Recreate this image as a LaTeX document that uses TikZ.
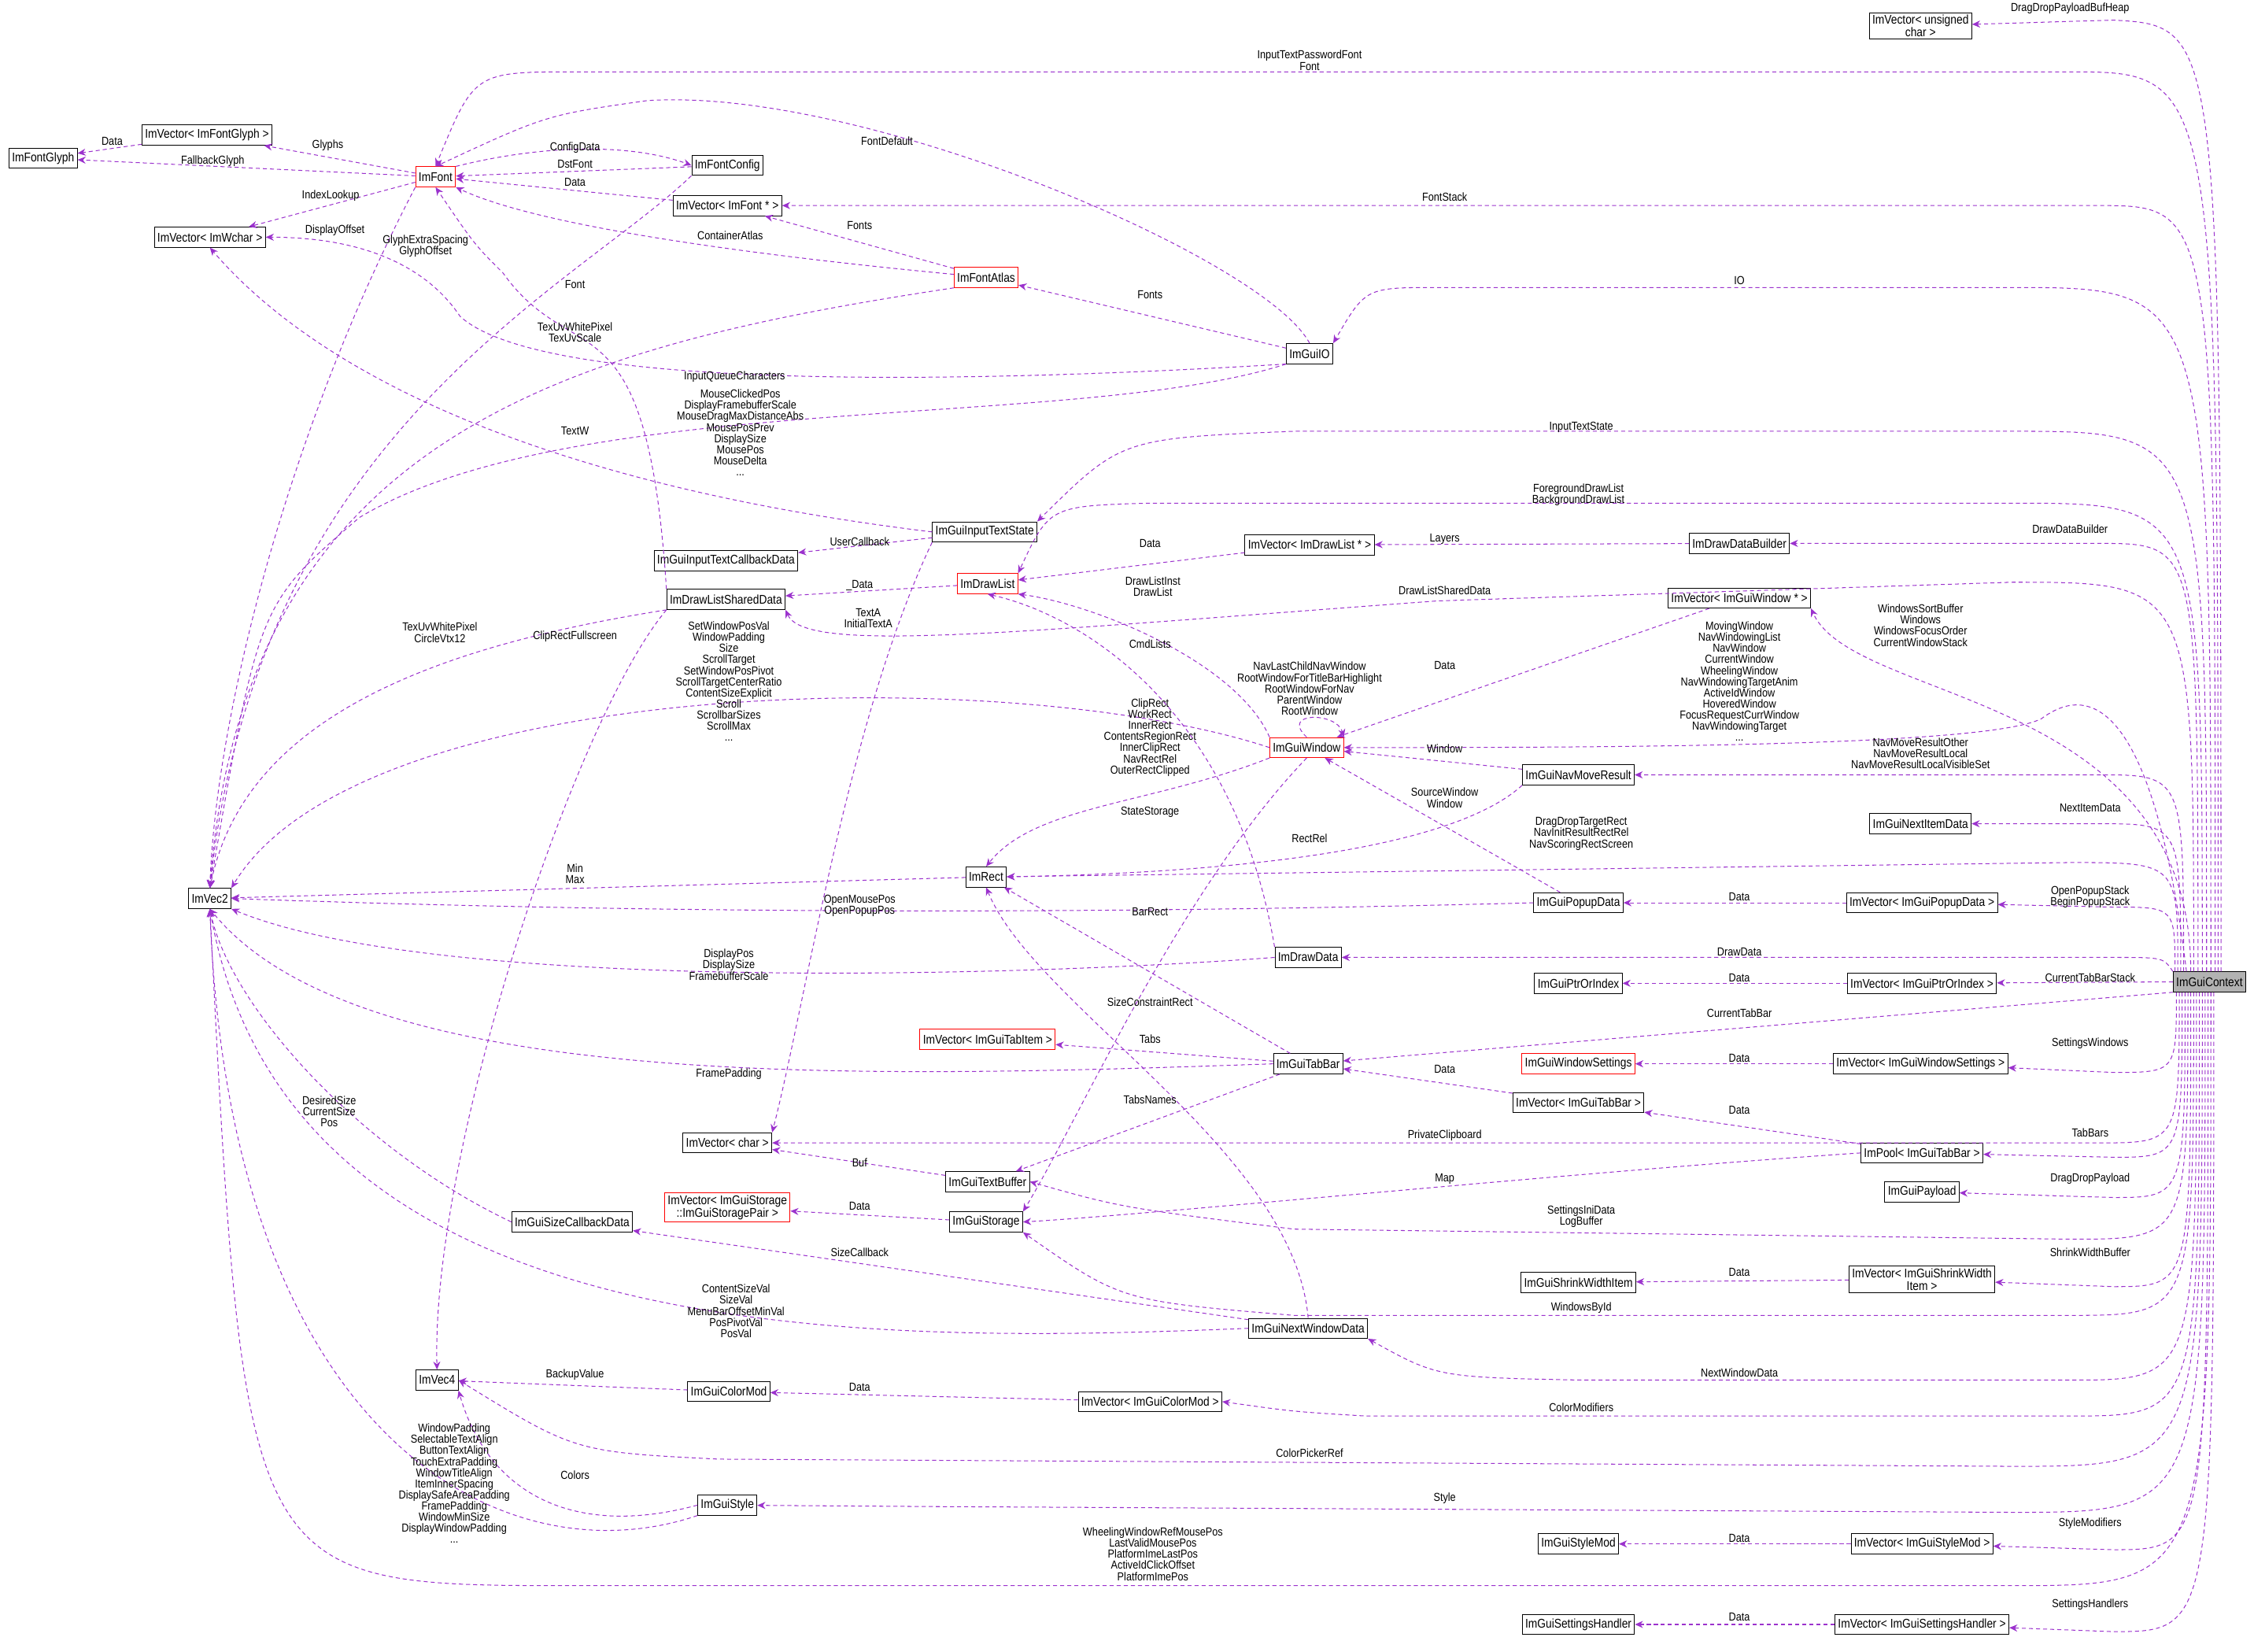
\documentclass[tikz,border=0pt]{standalone}
\usepackage{fontspec}
\usetikzlibrary{arrows.meta}
\setmainfont{Liberation Sans}[FakeStretch=0.86]
\definecolor{ec}{RGB}{155,50,205}
\tikzset{
 box/.style={draw=black, line width=0.7pt, fill=white, font=\fontsize{12.5}{13}\selectfont, inner xsep=3pt, inner ysep=2pt, minimum height=0.7cm, align=center},
 rbox/.style={box, draw=red},
 gbox/.style={box, fill=gray!60},
 e/.style={draw=ec, line width=0.8pt, dash pattern=on 4pt off 3pt, -{Stealth[length=8pt,width=7pt]}},
 lab/.style={font=\fontsize{11.5}{11}\selectfont, align=center, inner sep=0pt},
}
\begin{document}
\begin{tikzpicture}[x=0.05cm,y=-0.05cm]
\useasboundingbox (0,0) rectangle (1568,1149);
% nodes
\node[box] (uchar) at (1336,18) {ImVector< unsigned\\ char >};
\node[box] (glyph) at (30,110) {ImFontGlyph};
\node[box] (vglyph) at (144,94) {ImVector< ImFontGlyph >};
\node[rbox] (font) at (303,123) {ImFont};
\node[box] (fcfg) at (506,115) {ImFontConfig};
\node[box] (vwchar) at (146,165) {ImVector< ImWchar >};
\node[box] (vfont) at (506,143) {ImVector< ImFont * >};
\node[rbox] (atlas) at (686,193) {ImFontAtlas};
\node[box] (io) at (911,246) {ImGuiIO};
\node[box] (its) at (685,370) {ImGuiInputTextState};
\node[box] (itcb) at (505,390) {ImGuiInputTextCallbackData};
\node[box] (dlsd) at (505,417) {ImDrawListSharedData};
\node[rbox] (dl) at (687,406) {ImDrawList};
\node[box] (vdl) at (911,379) {ImVector< ImDrawList * >};
\node[box] (ddb) at (1210,378) {ImDrawDataBuilder};
\node[box] (vwin) at (1210,416) {ImVector< ImGuiWindow * >};
\node[rbox] (win) at (909,520) {ImGuiWindow};
\node[box] (nmr) at (1098,539) {ImGuiNavMoveResult};
\node[box] (nid) at (1336,573) {ImGuiNextItemData};
\node[box] (rect) at (686,610) {ImRect};
\node[box] (vec2) at (146,625) {ImVec2};
\node[box] (pop) at (1098,628) {ImGuiPopupData};
\node[box] (vpop) at (1337,628) {ImVector< ImGuiPopupData >};
\node[box] (dd) at (910,666) {ImDrawData};
\node[box] (ptr) at (1098,684) {ImGuiPtrOrIndex};
\node[box] (vptr) at (1337,684) {ImVector< ImGuiPtrOrIndex >};
\node[gbox] (ctx) at (1537,683) {ImGuiContext};
\node[rbox] (vtab) at (687,723) {ImVector< ImGuiTabItem >};
\node[box] (tab) at (910,740) {ImGuiTabBar};
\node[rbox] (ws) at (1098,740) {ImGuiWindowSettings};
\node[box] (vws) at (1336,740) {ImVector< ImGuiWindowSettings >};
\node[box] (vtabbar) at (1098,767) {ImVector< ImGuiTabBar >};
\node[box] (vchar) at (506,795) {ImVector< char >};
\node[box] (pool) at (1337,802) {ImPool< ImGuiTabBar >};
\node[box] (tbuf) at (687,822) {ImGuiTextBuffer};
\node[box] (pay) at (1337,829) {ImGuiPayload};
\node[rbox] (vpair) at (506,840) {ImVector< ImGuiStorage\\ ::ImGuiStoragePair >};
\node[box] (stor) at (686,850) {ImGuiStorage};
\node[box] (scb) at (398,850) {ImGuiSizeCallbackData};
\node[box] (shr) at (1098,892) {ImGuiShrinkWidthItem};
\node[box] (vshr) at (1337,890) {ImVector< ImGuiShrinkWidth\\ Item >};
\node[box] (nwd) at (910,924) {ImGuiNextWindowData};
\node[box] (vec4) at (304,960) {ImVec4};
\node[box] (cmod) at (507,968) {ImGuiColorMod};
\node[box] (vcmod) at (800,975) {ImVector< ImGuiColorMod >};
\node[box] (style) at (506,1047) {ImGuiStyle};
\node[box] (smod) at (1098,1074) {ImGuiStyleMod};
\node[box] (vsmod) at (1337,1074) {ImVector< ImGuiStyleMod >};
\node[box] (sh) at (1098,1130) {ImGuiSettingsHandler};
\node[box] (vsh) at (1337,1130) {ImVector< ImGuiSettingsHandler >};

% ---- edges from ImGuiContext (upwards)
\draw[e] (1545,0 |- ctx.north) .. controls (1545,18) .. (1470,14) -- (uchar);
\draw[e] (1543,0 |- ctx.north) .. controls (1543,50) .. (1440,50) -- (400,50) .. controls (330,50) .. (font.north);
\draw[e] (1541,0 |- ctx.north) .. controls (1541,143) .. (1460,143) -- (vfont);
\draw[e] (1538,0 |- ctx.north) .. controls (1538,200) .. (1400,200) -- (1000,200) .. controls (950,200) .. (io.north east);
\draw[e] (1535,0 |- ctx.north) .. controls (1535,300) .. (1400,300) -- (900,300) .. controls (780,305) .. (its.north east);
\draw[e] (1532,0 |- ctx.north) .. controls (1532,350) .. (1400,350) -- (800,350) .. controls (730,352) .. (dl.north east);
\draw[e] (1529,0 |- ctx.north) .. controls (1529,378) .. (1460,378) -- (ddb);
\draw[e] (1526,0 |- ctx.north) .. controls (1526,405) .. (1400,405) -- (1000,418) .. controls (700,440) and (560,455) .. (dlsd.south east);
\draw[e] (1524,0 |- ctx.north) .. controls (1524,480) and (1290,490) .. (vwin.south east);
\draw[e] (1521,0 |- ctx.north) .. controls (1500,505) and (1460,470) .. (1420,500) .. controls (1380,520) and (1100,520) .. (win.east);
\draw[e] (1519,0 |- ctx.north) .. controls (1519,539) .. (1460,539) -- (nmr);
\draw[e] (1517,0 |- ctx.north) .. controls (1517,573) .. (1460,573) -- (nid);
\draw[e] (1515,0 |- ctx.north) .. controls (1515,600) .. (1440,600) -- (rect);
\draw[e] (1513,0 |- ctx.north) .. controls (1513,631) .. (1470,631) -- (vpop);
\draw[e] (ctx.north west) .. controls (1505,666) .. (1470,666) -- (dd);
\draw[e] (ctx.west) -- (vptr);
\draw[e] (ctx.south west) -- (tab);
% ---- edges from ImGuiContext (downwards)
\draw[e] (1514,0 |- ctx.south) .. controls (1514,746) .. (1470,746) -- (vws);
\draw[e] (1516,0 |- ctx.south) .. controls (1516,795) .. (1460,795) -- (vchar);
\draw[e] (1518,0 |- ctx.south) .. controls (1518,805) .. (1470,805) -- (pool);
\draw[e] (1520,0 |- ctx.south) .. controls (1520,833) .. (1470,833) -- (pay);
\draw[e] (1522,0 |- ctx.south) .. controls (1522,862) .. (1440,862) -- (900,855) .. controls (780,840) .. (tbuf.east);
\draw[e] (1524,0 |- ctx.south) .. controls (1524,895) .. (1470,895) -- (vshr);
\draw[e] (1526,0 |- ctx.south) .. controls (1526,915) .. (1440,915) -- (900,915) .. controls (780,905) .. (stor.south east);
\draw[e] (1528,0 |- ctx.south) .. controls (1528,960) .. (1440,960) -- (1100,960) .. controls (1000,958) .. (nwd.south east);
\draw[e] (1530,0 |- ctx.south) .. controls (1530,985) .. (1440,985) -- (950,985) .. controls (900,982) .. (vcmod.east);
\draw[e] (1532,0 |- ctx.south) .. controls (1532,1020) .. (1400,1020) -- (500,1015) .. controls (400,1010) .. (vec4.east);
\draw[e] (1534,0 |- ctx.south) .. controls (1534,1052) .. (1400,1052) -- (650,1048) -- (style);
\draw[e] (1536,0 |- ctx.south) .. controls (1536,1078) .. (1470,1078) -- (vsmod);
\draw[e] (1538,0 |- ctx.south) .. controls (1538,1103) .. (1400,1103) -- (400,1103) .. controls (170,1103) .. (vec2.south);
\draw[e] (1540,0 |- ctx.south) .. controls (1540,1135) .. (1470,1135) -- (vsh);

% ---- other edges
\draw[e] (vglyph) -- (glyph);
\draw[e] (font) -- (glyph);
\draw[e] (font) -- (vglyph);
\draw[e] (font) -- (vwchar);
\draw[e] (font.south west) .. controls (200,300) and (150,500) .. (vec2.north);
\draw[e] (font.north east) .. controls (380,100) and (440,100) .. (fcfg.west);
\draw[e] (fcfg) -- (font);
\draw[e] (vfont) -- (font);
\draw[e] (atlas) .. controls (550,180) and (380,160) .. (font.south east);
\draw[e] (atlas) -- (vfont);
\draw[e] (io) -- (atlas);
\draw[e] (io.north) .. controls (880,180) and (600,60) .. (450,70) .. controls (380,80) .. (font.north);
\draw[e] (io.south west) .. controls (700,265) and (380,275) .. (320,220) .. controls (300,190) and (260,165) .. (vwchar.east);
\draw[e] (io.south west) .. controls (750,300) and (400,270) .. (250,360) .. controls (180,420) .. (vec2.north);
\draw[e] (fcfg.south west) .. controls (400,200) and (180,300) .. (vec2.north);
\draw[e] (atlas.south west) .. controls (400,240) and (170,300) .. (vec2.north);
\draw[e] (dlsd.north west) .. controls (450,200) and (400,260) .. (350,190) .. controls (330,170) .. (font.south);
\draw[e] (its.west) .. controls (400,340) and (230,270) .. (vwchar.south);
\draw[e] (its) -- (itcb);
\draw[e] (its.south west) .. controls (590,500) and (560,700) .. (vchar.north east);
\draw[e] (dl) -- (dlsd);
\draw[e] (vdl) -- (dl);
\draw[e] (ddb) -- (vdl);
\draw[e] (dlsd.south west) .. controls (300,450) and (170,500) .. (vec2.north);
\draw[e] (dlsd.south west) .. controls (400,500) and (300,800) .. (vec4.north);
\draw[e] (win.north west) .. controls (860,460) and (760,420) .. (dl.south east);
\draw[e] (win.north) .. controls (890,495) and (930,495) .. (win.north east);
\draw[e] (vwin) -- (win);
\draw[e] (win.west) .. controls (700,460) and (250,470) .. (vec2.north east);
\draw[e] (win.south west) .. controls (800,560) and (720,560) .. (rect.north);
\draw[e] (win.south) .. controls (820,620) and (750,780) .. (stor.north east);
\draw[e] (nmr) -- (win);
\draw[e] (nmr.south west) .. controls (1000,600) and (800,608) .. (rect.east);
\draw[e] (pop) -- (win);
\draw[e] (pop.west) .. controls (800,635) and (500,637) .. (vec2.east);
\draw[e] (vpop) -- (pop);
\draw[e] (rect) -- (vec2);
\draw[e] (dd.west) .. controls (700,680) and (300,690) .. (vec2.south east);
\draw[e] (dd.north west) .. controls (860,500) and (760,430) .. (dl.south);
\draw[e] (vptr) -- (ptr);
\draw[e] (tab) -- (vtab);
\draw[e] (tab) -- (rect);
\draw[e] (tab.west) .. controls (600,750) and (250,760) .. (vec2.south);
\draw[e] (tab) -- (tbuf);
\draw[e] (vtabbar) -- (tab);
\draw[e] (vws) -- (ws);
\draw[e] (pool) -- (vtabbar);
\draw[e] (pool.west) .. controls (1100,815) and (800,845) .. (stor.east);
\draw[e] (tbuf) -- (vchar);
\draw[e] (stor) -- (vpair);
\draw[e] (scb.west) .. controls (250,800) and (160,700) .. (vec2.south);
\draw[e] (nwd) -- (scb);
\draw[e] (nwd.west) .. controls (600,935) and (200,940) .. (vec2.south);
\draw[e] (nwd.north) .. controls (900,800) and (720,700) .. (rect.south);
\draw[e] (vshr) -- (shr);
\draw[e] (cmod) -- (vec4);
\draw[e] (vcmod) -- (cmod);
\draw[e] (style.west) .. controls (400,1070) and (340,1040) .. (vec4.south east);
\draw[e] (style.south west) .. controls (350,1100) and (160,1000) .. (vec2.south);
\draw[e] (vsmod) -- (smod);
\draw[e] (vsh) -- (sh);

% ---- labels
\node[lab] (L1) at (1440,6) {DragDropPayloadBufHeap};
\node[lab] (L2) at (911,42) {InputTextPasswordFont\\Font};
\node[lab] (L3) at (1005,137) {FontStack};
\node[lab] (L4) at (1210,195) {IO};
\node[lab] (L5) at (1100,297) {InputTextState};
\node[lab] (L6) at (1098,344) {ForegroundDrawList\\BackgroundDrawList};
\node[lab] (L7) at (1440,368) {DrawDataBuilder};
\node[lab] (L8) at (1005,411) {DrawListSharedData};
\node[lab] (L9) at (1336,435) {WindowsSortBuffer\\Windows\\WindowsFocusOrder\\CurrentWindowStack};
\node[lab] (L10) at (1210,474) {MovingWindow\\NavWindowingList\\NavWindow\\CurrentWindow\\WheelingWindow\\NavWindowingTargetAnim\\ActiveIdWindow\\HoveredWindow\\FocusRequestCurrWindow\\NavWindowingTarget\\...};
\node[lab] (L11) at (1336,524) {NavMoveResultOther\\NavMoveResultLocal\\NavMoveResultLocalVisibleSet};
\node[lab] (L12) at (1454,562) {NextItemData};
\node[lab] (L13) at (1100,580) {DragDropTargetRect\\NavInitResultRectRel\\NavScoringRectScreen};
\node[lab] (L14) at (1454,624) {OpenPopupStack\\BeginPopupStack};
\node[lab] (L15) at (1210,662) {DrawData};
\node[lab] (L16) at (1454,680) {CurrentTabBarStack};
\node[lab] (L17) at (1210,705) {CurrentTabBar};
\node[lab] (L18) at (1454,726) {SettingsWindows};
\node[lab] (L19) at (1005,790) {PrivateClipboard};
\node[lab] (L20) at (1454,788) {TabBars};
\node[lab] (L21) at (1454,820) {DragDropPayload};
\node[lab] (L22) at (1100,846) {SettingsIniData\\LogBuffer};
\node[lab] (L23) at (1454,871) {ShrinkWidthBuffer};
\node[lab] (L24) at (1100,910) {WindowsById};
\node[lab] (L25) at (1210,955) {NextWindowData};
\node[lab] (L26) at (1100,979) {ColorModifiers};
\node[lab] (L27) at (911,1011) {ColorPickerRef};
\node[lab] (L28) at (1005,1042) {Style};
\node[lab] (L29) at (1454,1060) {StyleModifiers};
\node[lab] (L30) at (802,1081) {WheelingWindowRefMousePos\\LastValidMousePos\\PlatformImeLastPos\\ActiveIdClickOffset\\PlatformImePos};
\node[lab] (L31) at (1454,1116) {SettingsHandlers};
\node[lab] (M1) at (78,98) {Data};
\node[lab] (M2) at (148,112) {FallbackGlyph};
\node[lab] (M3) at (228,101) {Glyphs};
\node[lab] (M4) at (230,136) {IndexLookup};
\node[lab] (M5) at (233,160) {DisplayOffset};
\node[lab] (M6) at (296,171) {GlyphExtraSpacing\\GlyphOffset};
\node[lab] (M7) at (400,103) {ConfigData};
\node[lab] (M8) at (400,114) {DstFont};
\node[lab] (M9) at (400,127) {Data};
\node[lab] (M10) at (508,164) {ContainerAtlas};
\node[lab] (M11) at (598,157) {Fonts};
\node[lab] (M12) at (400,231) {TexUvWhitePixel\\TexUvScale};
\node[lab] (M13) at (800,205) {Fonts};
\node[lab] (M14) at (617,98) {FontDefault};
\node[lab] (M15) at (511,262) {InputQueueCharacters};
\node[lab] (M16) at (515,301) {MouseClickedPos\\DisplayFramebufferScale\\MouseDragMaxDistanceAbs\\MousePosPrev\\DisplaySize\\MousePos\\MouseDelta\\...};
\node[lab] (M17) at (400,198) {Font};
\node[lab] (M18) at (400,300) {TextW};
\node[lab] (M19) at (598,377) {UserCallback};
\node[lab] (M20) at (604,430) {TextA\\InitialTextA};
\node[lab] (M21) at (598,407) {\_Data};
\node[lab] (M22) at (800,378) {Data};
\node[lab] (M23) at (1005,375) {Layers};
\node[lab] (M24) at (306,440) {TexUvWhitePixel\\CircleVtx12};
\node[lab] (M25) at (400,443) {ClipRectFullscreen};
\node[lab] (M26) at (802,408) {DrawListInst\\DrawList};
\node[lab] (M27) at (911,479) {NavLastChildNavWindow\\RootWindowForTitleBarHighlight\\RootWindowForNav\\ParentWindow\\RootWindow};
\node[lab] (M28) at (1005,463) {Data};
\node[lab] (M29) at (507,474) {SetWindowPosVal\\WindowPadding\\Size\\ScrollTarget\\SetWindowPosPivot\\ScrollTargetCenterRatio\\ContentSizeExplicit\\Scroll\\ScrollbarSizes\\ScrollMax\\...};
\node[lab] (M30) at (800,513) {ClipRect\\WorkRect\\InnerRect\\ContentsRegionRect\\InnerClipRect\\NavRectRel\\OuterRectClipped};
\node[lab] (M31) at (800,565) {StateStorage};
\node[lab] (M32) at (1005,521) {Window};
\node[lab] (M33) at (911,583) {RectRel};
\node[lab] (M34) at (1005,555) {SourceWindow\\Window};
\node[lab] (M35) at (598,630) {OpenMousePos\\OpenPopupPos};
\node[lab] (M36) at (1210,624) {Data};
\node[lab] (M37) at (400,608) {Min\\Max};
\node[lab] (M38) at (507,671) {DisplayPos\\DisplaySize\\FramebufferScale};
\node[lab] (M39) at (800,448) {CmdLists};
\node[lab] (M40) at (1210,680) {Data};
\node[lab] (M41) at (800,723) {Tabs};
\node[lab] (M42) at (800,634) {BarRect};
\node[lab] (M43) at (507,747) {FramePadding};
\node[lab] (M44) at (800,765) {TabsNames};
\node[lab] (M45) at (1005,744) {Data};
\node[lab] (M46) at (1210,736) {Data};
\node[lab] (M47) at (1210,772) {Data};
\node[lab] (M48) at (1005,820) {Map};
\node[lab] (M49) at (598,809) {Buf};
\node[lab] (M50) at (598,839) {Data};
\node[lab] (M51) at (229,773) {DesiredSize\\CurrentSize\\Pos};
\node[lab] (M52) at (598,871) {SizeCallback};
\node[lab] (M53) at (512,912) {ContentSizeVal\\SizeVal\\MenuBarOffsetMinVal\\PosPivotVal\\PosVal};
\node[lab] (M54) at (800,697) {SizeConstraintRect};
\node[lab] (M55) at (1210,885) {Data};
\node[lab] (M56) at (400,956) {BackupValue};
\node[lab] (M57) at (598,965) {Data};
\node[lab] (M58) at (400,1026) {Colors};
\node[lab] (M59) at (316,1032) {WindowPadding\\SelectableTextAlign\\ButtonTextAlign\\TouchExtraPadding\\WindowTitleAlign\\ItemInnerSpacing\\DisplaySafeAreaPadding\\FramePadding\\WindowMinSize\\DisplayWindowPadding\\...};
\node[lab] (M60) at (1210,1070) {Data};
\node[lab] (M61) at (1210,1125) {Data};
\end{tikzpicture}
\end{document}
